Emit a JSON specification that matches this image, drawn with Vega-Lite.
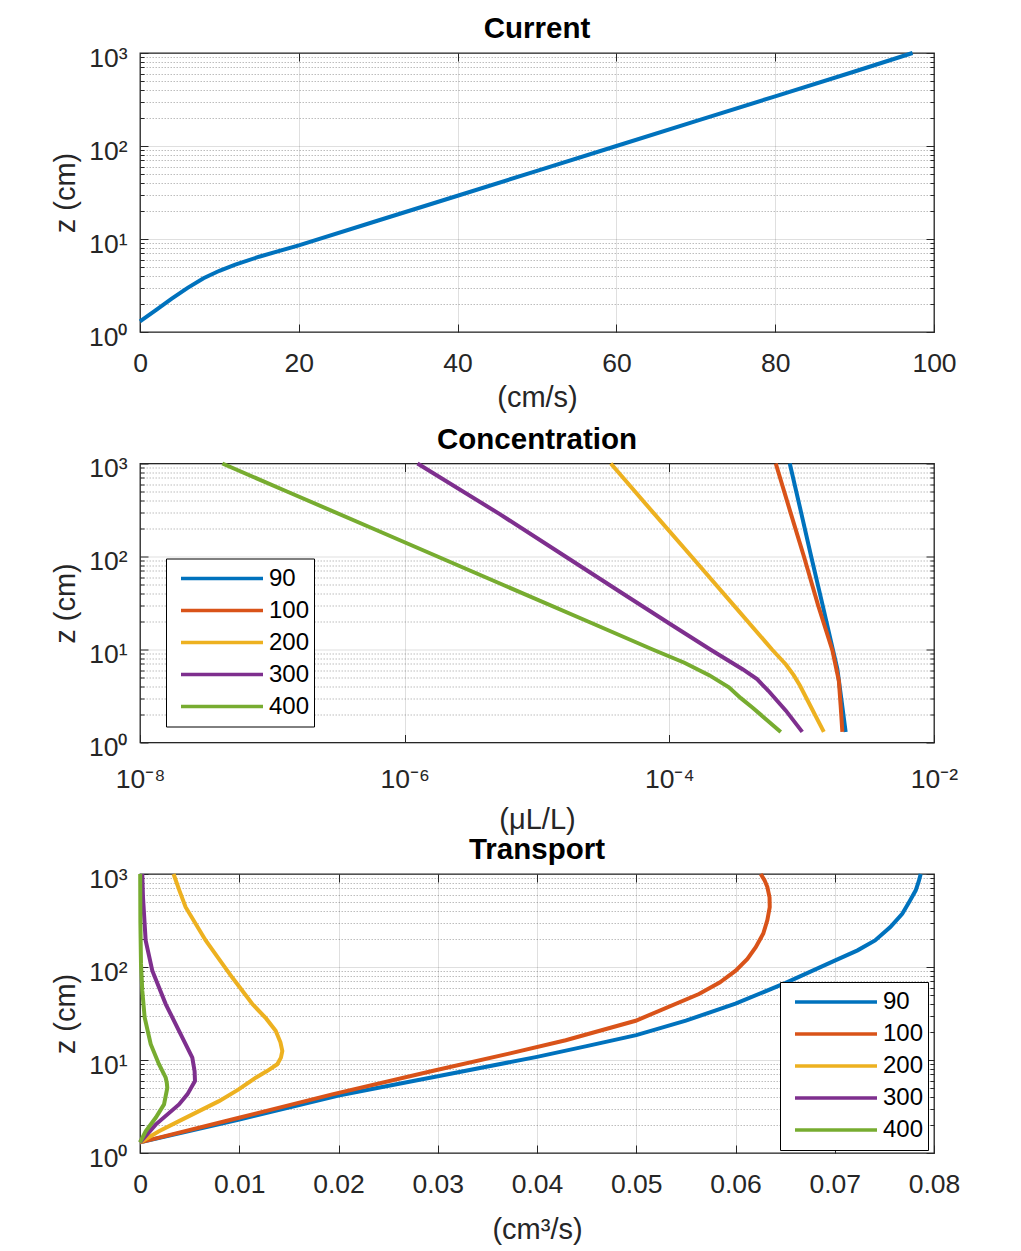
{
  "$schema": "https://vega.github.io/schema/vega-lite/v6.json",
  "padding": {"left": 50, "top": 13, "right": 5, "bottom": 5},
  "background": "#ffffff",
  "bounds": "flush",
  "spacing": 131.5,
  "resolve": {"scale": {"color": "independent"}, "legend": {"color": "independent"}},
  "vconcat": [
    {
      "width": 794, "height": 279,
      "title": {"text": "Current"},
      "data": {"values": [
        {"v": 0, "z": 1.3}, {"v": 2, "z": 1.72}, {"v": 4, "z": 2.28}, {"v": 6, "z": 2.98}, {"v": 8, "z": 3.78},
        {"v": 10, "z": 4.55}, {"v": 12, "z": 5.3}, {"v": 15, "z": 6.45}, {"v": 20, "z": 8.55}, {"v": 30, "z": 15.8},
        {"v": 40, "z": 29.2}, {"v": 50, "z": 54}, {"v": 60, "z": 100}, {"v": 70, "z": 185}, {"v": 80, "z": 342},
        {"v": 90, "z": 632}, {"v": 97.3, "z": 1000}
      ]},
      "layer": [
        {
          "mark": {"type": "line", "strokeWidth": 4, "color": "#0072BD"},
          "encoding": {
            "x": {"field": "v", "type": "quantitative", "scale": {"domain": [0, 100], "nice": false, "zero": false},
              "axis": {"orient": "bottom", "values": [0, 20, 40, 60, 80, 100], "format": "d", "title": "(cm/s)", "tickSize": -8, "labelPadding": 26.5, "titlePadding": 6.5, "grid": true}},
            "y": {"field": "z", "type": "quantitative", "scale": {"type": "log", "domain": [1, 1000], "nice": false},
              "axis": {"orient": "left", "values": [1, 10, 100, 1000], "labelExpr": "'10' + ['⁰','¹','²','³'][round(log(datum.value)/LN10)]", "title": "z (cm)", "tickSize": -8, "labelPadding": 21, "labelOffset": 5, "titlePadding": 8, "grid": true}},
            "order": {"field": "z", "type": "quantitative"}
          }
        },
        {
          "mark": {"type": "point", "opacity": 0},
          "encoding": {
            "x": {"field": "v", "type": "quantitative", "scale": {"domain": [0, 100], "nice": false, "zero": false},
              "axis": {"orient": "top", "values": [20, 40, 60, 80], "labels": false, "title": null, "tickSize": -8, "grid": false}},
            "y": {"field": "z", "type": "quantitative", "scale": {"type": "log", "domain": [1, 1000], "nice": false},
              "axis": {"orient": "left", "values": [2,3,4,5,6,7,8,9,20,30,40,50,60,70,80,90,200,300,400,500,600,700,800,900], "labels": false, "title": null, "tickSize": -4, "grid": true, "gridDash": [1.5, 1.5], "gridOpacity": 0.3}}
          }
        },
        {
          "mark": {"type": "point", "opacity": 0},
          "encoding": {
            "x": {"field": "v", "type": "quantitative", "axis": null},
            "y": {"field": "z", "type": "quantitative", "axis": {"orient": "right", "values": [1, 10, 100, 1000], "labels": false, "title": null, "tickSize": -8, "grid": false}}
          }
        },
        {
          "mark": {"type": "point", "opacity": 0},
          "encoding": {
            "x": {"field": "v", "type": "quantitative", "axis": null},
            "y": {"field": "z", "type": "quantitative", "axis": {"orient": "right", "values": [2,3,4,5,6,7,8,9,20,30,40,50,60,70,80,90,200,300,400,500,600,700,800,900], "labels": false, "title": null, "tickSize": -4, "grid": false}}
          }
        }
      ],
      "resolve": {"axis": {"x": "independent", "y": "independent"}}
    },
    {
      "width": 794, "height": 279,
      "title": {"text": "Concentration"},
      "data": {"values": [
        {"s": "90", "c": 8.13e-4, "z": 1000}, {"s": "90", "c": 9.89e-4, "z": 300}, {"s": "90", "c": 1.18e-3, "z": 100}, {"s": "90", "c": 1.44e-3, "z": 30},
        {"s": "90", "c": 1.72e-3, "z": 10}, {"s": "90", "c": 1.86e-3, "z": 6.2}, {"s": "90", "c": 1.99e-3, "z": 3}, {"s": "90", "c": 2.15e-3, "z": 1.3},
        {"s": "100", "c": 6.37e-4, "z": 1000}, {"s": "100", "c": 8.22e-4, "z": 300}, {"s": "100", "c": 1.04e-3, "z": 100}, {"s": "100", "c": 1.33e-3, "z": 30},
        {"s": "100", "c": 1.71e-3, "z": 9.7}, {"s": "100", "c": 1.91e-3, "z": 4.6}, {"s": "100", "c": 1.97e-3, "z": 2.5}, {"s": "100", "c": 2.03e-3, "z": 1.3},
        {"s": "200", "c": 3.61e-5, "z": 1000}, {"s": "200", "c": 7.5e-5, "z": 300}, {"s": "200", "c": 1.47e-4, "z": 100}, {"s": "200", "c": 3.06e-4, "z": 30},
        {"s": "200", "c": 5.97e-4, "z": 10}, {"s": "200", "c": 7.6e-4, "z": 6.9}, {"s": "200", "c": 8.7e-4, "z": 5.3}, {"s": "200", "c": 9.7e-4, "z": 4.1}, {"s": "200", "c": 1.16e-3, "z": 2.5}, {"s": "200", "c": 1.47e-3, "z": 1.3},
        {"s": "300", "c": 1.25e-6, "z": 1000}, {"s": "300", "c": 5.16e-6, "z": 289}, {"s": "300", "c": 1.64e-5, "z": 100}, {"s": "300", "c": 4.44e-5, "z": 40},
        {"s": "300", "c": 1.007e-4, "z": 18.9}, {"s": "300", "c": 2.04e-4, "z": 10}, {"s": "300", "c": 3.6e-4, "z": 6.1}, {"s": "300", "c": 4.6e-4, "z": 4.8}, {"s": "300", "c": 5.6e-4, "z": 3.6}, {"s": "300", "c": 7.6e-4, "z": 2.2}, {"s": "300", "c": 1.01e-3, "z": 1.3},
        {"s": "400", "c": 4.19e-8, "z": 1000}, {"s": "400", "c": 1.29e-7, "z": 500}, {"s": "400", "c": 5.74e-7, "z": 200}, {"s": "400", "c": 1.77e-6, "z": 100},
        {"s": "400", "c": 5.46e-6, "z": 50}, {"s": "400", "c": 2.43e-5, "z": 20}, {"s": "400", "c": 7.48e-5, "z": 10},
        {"s": "400", "c": 1.3e-4, "z": 7.2}, {"s": "400", "c": 2.0e-4, "z": 5.3}, {"s": "400", "c": 2.82e-4, "z": 3.92}, {"s": "400", "c": 3.47e-4, "z": 3.0}, {"s": "400", "c": 4.24e-4, "z": 2.38}, {"s": "400", "c": 6.95e-4, "z": 1.3}
      ]},
      "layer": [
        {
          "mark": {"type": "line", "strokeWidth": 4},
          "encoding": {
            "x": {"field": "c", "type": "quantitative", "scale": {"type": "log", "domain": [1e-8, 1e-2], "nice": false},
              "axis": {"orient": "bottom", "values": [1e-8, 1e-6, 1e-4, 1e-2], "labelExpr": "'10⁻' + ['','','²','','⁴','','⁶','','⁸'][round(-log(datum.value)/LN10)]", "title": "(μL/L)", "tickSize": -8, "labelPadding": 31.5, "titlePadding": 13, "grid": true}},
            "y": {"field": "z", "type": "quantitative", "scale": {"type": "log", "domain": [1, 1000], "nice": false},
              "axis": {"orient": "left", "values": [1, 10, 100, 1000], "labelExpr": "'10' + ['⁰','¹','²','³'][round(log(datum.value)/LN10)]", "title": "z (cm)", "tickSize": -8, "labelPadding": 21, "labelOffset": 5, "titlePadding": 8, "grid": true}},
            "color": {"field": "s", "type": "nominal",
              "scale": {"domain": ["90", "100", "200", "300", "400"], "range": ["#0072BD", "#D95319", "#EDB120", "#7E2F8E", "#77AC30"]},
              "legend": {"orient": "none", "legendX": 26, "legendY": 95}},
            "order": {"field": "z", "type": "quantitative"}
          }
        },
        {
          "mark": {"type": "point", "opacity": 0},
          "encoding": {
            "x": {"field": "c", "type": "quantitative", "scale": {"type": "log", "domain": [1e-8, 1e-2], "nice": false},
              "axis": {"orient": "top", "values": [1e-6, 1e-4], "labels": false, "title": null, "tickSize": -8, "grid": false}},
            "y": {"field": "z", "type": "quantitative", "scale": {"type": "log", "domain": [1, 1000], "nice": false},
              "axis": {"orient": "left", "values": [2,3,4,5,6,7,8,9,20,30,40,50,60,70,80,90,200,300,400,500,600,700,800,900], "labels": false, "title": null, "tickSize": -4, "grid": true, "gridDash": [1.5, 1.5], "gridOpacity": 0.3}}
          }
        },
        {
          "mark": {"type": "point", "opacity": 0},
          "encoding": {
            "x": {"field": "c", "type": "quantitative", "axis": null},
            "y": {"field": "z", "type": "quantitative", "axis": {"orient": "right", "values": [1, 10, 100, 1000], "labels": false, "title": null, "tickSize": -8, "grid": false}}
          }
        },
        {
          "mark": {"type": "point", "opacity": 0},
          "encoding": {
            "x": {"field": "c", "type": "quantitative", "axis": null},
            "y": {"field": "z", "type": "quantitative", "axis": {"orient": "right", "values": [2,3,4,5,6,7,8,9,20,30,40,50,60,70,80,90,200,300,400,500,600,700,800,900], "labels": false, "title": null, "tickSize": -4, "grid": false}}
          }
        }
      ],
      "resolve": {"axis": {"x": "independent", "y": "independent"}}
    },
    {
      "width": 794, "height": 279,
      "title": {"text": "Transport"},
      "data": {"values": [
        {"s": "90", "q": 0, "z": 1.3}, {"s": "90", "q": 0.01, "z": 2.29}, {"s": "90", "q": 0.02, "z": 4.15}, {"s": "90", "q": 0.03, "z": 6.7},
        {"s": "90", "q": 0.04, "z": 10.8}, {"s": "90", "q": 0.045, "z": 14.1}, {"s": "90", "q": 0.05, "z": 18.5}, {"s": "90", "q": 0.055, "z": 26.5},
        {"s": "90", "q": 0.06, "z": 40.3}, {"s": "90", "q": 0.065, "z": 67}, {"s": "90", "q": 0.07, "z": 117}, {"s": "90", "q": 0.0723, "z": 151},
        {"s": "90", "q": 0.07406, "z": 193}, {"s": "90", "q": 0.0756, "z": 269}, {"s": "90", "q": 0.0768, "z": 374}, {"s": "90", "q": 0.0775, "z": 501},
        {"s": "90", "q": 0.07816, "z": 667}, {"s": "90", "q": 0.07846, "z": 832}, {"s": "90", "q": 0.07866, "z": 1000},
        {"s": "100", "q": 0, "z": 1.3}, {"s": "100", "q": 0.00998, "z": 2.39}, {"s": "100", "q": 0.01937, "z": 4.27}, {"s": "100", "q": 0.02945, "z": 7.62},
        {"s": "100", "q": 0.03718, "z": 11.7}, {"s": "100", "q": 0.04289, "z": 16.3}, {"s": "100", "q": 0.04994, "z": 26.4}, {"s": "100", "q": 0.05632, "z": 51.2},
        {"s": "100", "q": 0.0584, "z": 68}, {"s": "100", "q": 0.06002, "z": 91.4}, {"s": "100", "q": 0.0612, "z": 122}, {"s": "100", "q": 0.06204, "z": 163},
        {"s": "100", "q": 0.0628, "z": 229}, {"s": "100", "q": 0.06321, "z": 319}, {"s": "100", "q": 0.06345, "z": 440}, {"s": "100", "q": 0.06343, "z": 560},
        {"s": "100", "q": 0.06321, "z": 724}, {"s": "100", "q": 0.06292, "z": 860}, {"s": "100", "q": 0.06254, "z": 1000},
        {"s": "200", "q": 0, "z": 1.3}, {"s": "200", "q": 0.00191, "z": 1.71}, {"s": "200", "q": 0.00393, "z": 2.2}, {"s": "200", "q": 0.00796, "z": 3.61},
        {"s": "200", "q": 0.0099, "z": 4.8}, {"s": "200", "q": 0.01166, "z": 6.45}, {"s": "200", "q": 0.0128, "z": 7.6}, {"s": "200", "q": 0.01383, "z": 9.0},
        {"s": "200", "q": 0.0142, "z": 10.6}, {"s": "200", "q": 0.01434, "z": 12.5}, {"s": "200", "q": 0.01415, "z": 15.5}, {"s": "200", "q": 0.01367, "z": 20.6},
        {"s": "200", "q": 0.0127, "z": 28}, {"s": "200", "q": 0.01132, "z": 40}, {"s": "200", "q": 0.0093, "z": 77}, {"s": "200", "q": 0.008, "z": 120},
        {"s": "200", "q": 0.00662, "z": 193}, {"s": "200", "q": 0.0046, "z": 440}, {"s": "200", "q": 0.004, "z": 650}, {"s": "200", "q": 0.00338, "z": 1000},
        {"s": "300", "q": 0, "z": 1.3}, {"s": "300", "q": 0.00158, "z": 2.02}, {"s": "300", "q": 0.00393, "z": 3.33}, {"s": "300", "q": 0.00477, "z": 4.27},
        {"s": "300", "q": 0.00554, "z": 5.94}, {"s": "300", "q": 0.0055, "z": 7.6}, {"s": "300", "q": 0.00527, "z": 10.6}, {"s": "300", "q": 0.00393, "z": 20.6}, {"s": "300", "q": 0.00259, "z": 39.9},
        {"s": "300", "q": 0.00124, "z": 91.4}, {"s": "300", "q": 0.00057, "z": 193}, {"s": "300", "q": 0.0003, "z": 565}, {"s": "300", "q": 0.00023, "z": 1000},
        {"s": "400", "q": 0, "z": 1.3}, {"s": "400", "q": 0.00057, "z": 1.71}, {"s": "400", "q": 0.00158, "z": 2.39}, {"s": "400", "q": 0.00242, "z": 3.33},
        {"s": "400", "q": 0.00275, "z": 5.0}, {"s": "400", "q": 0.0027, "z": 5.7}, {"s": "400", "q": 0.00259, "z": 6.45}, {"s": "400", "q": 0.00191, "z": 9.0}, {"s": "400", "q": 0.00108, "z": 14.8},
        {"s": "400", "q": 0.00047, "z": 28.6}, {"s": "400", "q": 0.00023, "z": 55.6}, {"s": "400", "q": 0.0001, "z": 108}, {"s": "400", "q": 0.00004, "z": 300},
        {"s": "400", "q": 0.00002, "z": 1000}
      ]},
      "layer": [
        {
          "mark": {"type": "line", "strokeWidth": 4},
          "encoding": {
            "x": {"field": "q", "type": "quantitative", "scale": {"domain": [0, 0.08], "nice": false, "zero": false},
              "axis": {"orient": "bottom", "values": [0, 0.01, 0.02, 0.03, 0.04, 0.05, 0.06, 0.07, 0.08], "format": ".2~f", "title": "(cm³/s)", "tickSize": -8, "labelPadding": 26.5, "titlePadding": 17, "grid": true}},
            "y": {"field": "z", "type": "quantitative", "scale": {"type": "log", "domain": [1, 1000], "nice": false},
              "axis": {"orient": "left", "values": [1, 10, 100, 1000], "labelExpr": "'10' + ['⁰','¹','²','³'][round(log(datum.value)/LN10)]", "title": "z (cm)", "tickSize": -8, "labelPadding": 21, "labelOffset": 5, "titlePadding": 8, "grid": true}},
            "color": {"field": "s", "type": "nominal",
              "scale": {"domain": ["90", "100", "200", "300", "400"], "range": ["#0072BD", "#D95319", "#EDB120", "#7E2F8E", "#77AC30"]},
              "legend": {"orient": "none", "legendX": 640, "legendY": 108}},
            "order": {"field": "z", "type": "quantitative"}
          }
        },
        {
          "mark": {"type": "point", "opacity": 0},
          "encoding": {
            "x": {"field": "q", "type": "quantitative", "scale": {"domain": [0, 0.08], "nice": false, "zero": false},
              "axis": {"orient": "top", "values": [0.01, 0.02, 0.03, 0.04, 0.05, 0.06, 0.07], "labels": false, "title": null, "tickSize": -8, "grid": false}},
            "y": {"field": "z", "type": "quantitative", "scale": {"type": "log", "domain": [1, 1000], "nice": false},
              "axis": {"orient": "left", "values": [2,3,4,5,6,7,8,9,20,30,40,50,60,70,80,90,200,300,400,500,600,700,800,900], "labels": false, "title": null, "tickSize": -4, "grid": true, "gridDash": [1.5, 1.5], "gridOpacity": 0.3}}
          }
        },
        {
          "mark": {"type": "point", "opacity": 0},
          "encoding": {
            "x": {"field": "q", "type": "quantitative", "axis": null},
            "y": {"field": "z", "type": "quantitative", "axis": {"orient": "right", "values": [1, 10, 100, 1000], "labels": false, "title": null, "tickSize": -8, "grid": false}}
          }
        },
        {
          "mark": {"type": "point", "opacity": 0},
          "encoding": {
            "x": {"field": "q", "type": "quantitative", "axis": null},
            "y": {"field": "z", "type": "quantitative", "axis": {"orient": "right", "values": [2,3,4,5,6,7,8,9,20,30,40,50,60,70,80,90,200,300,400,500,600,700,800,900], "labels": false, "title": null, "tickSize": -4, "grid": false}}
          }
        }
      ],
      "resolve": {"axis": {"x": "independent", "y": "independent"}}
    }
  ],
  "config": {
    "font": "Liberation Sans",
    "view": {"stroke": "#262626", "strokeWidth": 1.3},
    "axis": {"labelFont": "Liberation Sans", "labelFontSize": 26.5, "labelColor": "#262626", "titleFont": "Liberation Sans", "titleFontSize": 29, "titleFontWeight": "normal", "titleColor": "#262626",
      "gridColor": "#262626", "gridOpacity": 0.15, "gridWidth": 1, "tickColor": "#262626", "tickWidth": 1, "domain": false, "labelFlush": false, "labelOverlap": false, "labelBound": false},
    "title": {"font": "Liberation Sans", "fontSize": 29.5, "fontWeight": "bold", "color": "#000000", "frame": "group", "anchor": "middle", "baseline": "alphabetic", "offset": 0.5},
    "legend": {"title": null, "symbolType": "stroke", "symbolSize": 6724, "symbolStrokeWidth": 3.5, "clipHeight": 32, "labelFont": "Liberation Sans", "labelFontSize": 24, "labelColor": "#000000",
      "strokeColor": "#000000", "fillColor": "#ffffff", "padding": 4, "rowPadding": 0, "symbolOffset": 9, "labelOffset": 4, "cornerRadius": 0, "labelLimit": 200}
  }
}
